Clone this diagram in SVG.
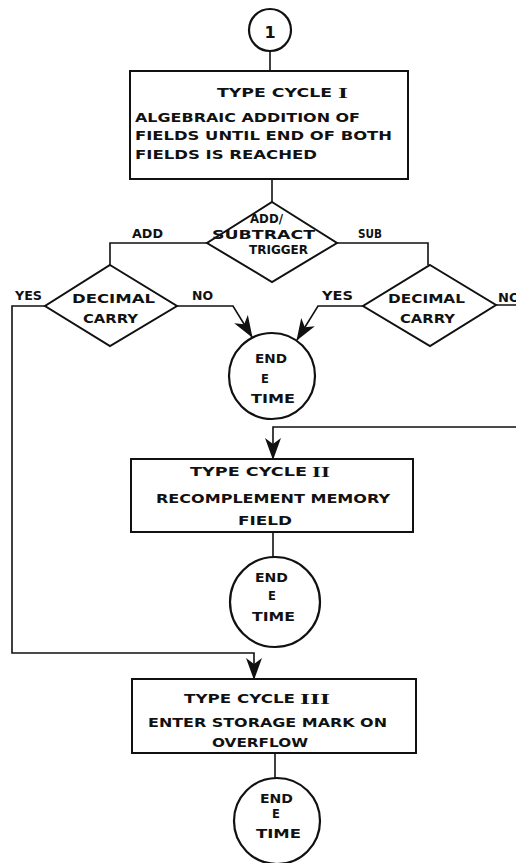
<svg xmlns="http://www.w3.org/2000/svg" width="516" height="863" viewBox="0 0 516 863">
<style>
.shape{fill:#fff;stroke:#111;stroke-width:2}
.term{fill:#fff;stroke:#111;stroke-width:2.2}
.conn{fill:none;stroke:#111;stroke-width:1.6}
.t{font-family:"DejaVu Sans","Liberation Sans",sans-serif;font-weight:bold;font-size:11.5px;fill:#111}
.rn{font-family:"Liberation Serif","DejaVu Serif",serif;font-weight:bold;font-size:14px;fill:#111}
.num{font-family:"DejaVu Sans","Liberation Sans",sans-serif;font-weight:bold;font-size:16px;fill:#111}
</style>
<defs>
<marker id="ah" viewBox="0 -9 22 18" refX="21" refY="0" markerWidth="22" markerHeight="18" markerUnits="userSpaceOnUse" orient="auto">
<path d="M0,-8 L22,0 L0,8 L6,0 Z" fill="#111"/>
</marker>
</defs>
<rect width="516" height="863" fill="#fff"/>
<g id="connectors">
<path class="conn" d="M270,51 V71"/>
<path class="conn" d="M272,179 V202"/>
<path class="conn" d="M207,243 H110 V265"/>
<path class="conn" d="M337,243 H428 V265"/>
<path class="conn" d="M177,306 H233 L252,337" marker-end="url(#ah)"/>
<path class="conn" d="M363,306 H318 L297,340" marker-end="url(#ah)"/>
<path class="conn" d="M45,306 H12 V653 H254 V679" marker-end="url(#ah)"/>
<path class="conn" d="M496,305 H530 V427 H273 V459" marker-end="url(#ah)"/>
<path class="conn" d="M273,532 V557"/>
<path class="conn" d="M275,753 V778"/>
</g>
<g id="connector-labels">
<text class="t" x="132" y="238" textLength="31" lengthAdjust="spacingAndGlyphs">ADD</text>
<text class="t" x="358" y="238" textLength="24" lengthAdjust="spacingAndGlyphs">SUB</text>
<text class="t" x="15" y="300" textLength="27" lengthAdjust="spacingAndGlyphs">YES</text>
<text class="t" x="192" y="300" textLength="21" lengthAdjust="spacingAndGlyphs">NO</text>
<text class="t" x="322" y="300" textLength="31" lengthAdjust="spacingAndGlyphs">YES</text>
<text class="t" x="498" y="302" textLength="22" lengthAdjust="spacingAndGlyphs">NO</text>
</g>
<g id="connector1">
<circle class="term" cx="270" cy="30" r="21"/>
<text class="num" x="270" y="38" text-anchor="middle">1</text>
</g>
<g id="cycle1">
<rect class="shape" x="130" y="71" width="278" height="108"/>
<text class="t" x="217" y="97" textLength="115" lengthAdjust="spacingAndGlyphs">TYPE CYCLE</text>
<text class="rn" x="338" y="98" textLength="10" lengthAdjust="spacingAndGlyphs">I</text>
<text class="t" x="135" y="122" textLength="225" lengthAdjust="spacingAndGlyphs">ALGEBRAIC ADDITION OF</text>
<text class="t" x="135" y="140" textLength="257" lengthAdjust="spacingAndGlyphs">FIELDS UNTIL END OF BOTH</text>
<text class="t" x="135" y="159" textLength="182" lengthAdjust="spacingAndGlyphs">FIELDS IS REACHED</text>
</g>
<g id="trigger">
<polygon class="shape" points="272,202 337,243 272,282 207,243"/>
<text class="t" x="250" y="223" textLength="33" lengthAdjust="spacingAndGlyphs">ADD/</text>
<text class="t" x="212" y="239" textLength="103" lengthAdjust="spacingAndGlyphs">SUBTRACT</text>
<text class="t" x="249" y="254" textLength="59" lengthAdjust="spacingAndGlyphs">TRIGGER</text>
</g>
<g id="carry-add">
<polygon class="shape" points="110,265 177,306 110,346 45,306"/>
<text class="t" x="72" y="303" textLength="83" lengthAdjust="spacingAndGlyphs">DECIMAL</text>
<text class="t" x="83" y="323" textLength="55" lengthAdjust="spacingAndGlyphs">CARRY</text>
</g>
<g id="carry-sub">
<polygon class="shape" points="430,265 496,305 430,346 363,306"/>
<text class="t" x="388" y="303" textLength="77" lengthAdjust="spacingAndGlyphs">DECIMAL</text>
<text class="t" x="400" y="323" textLength="55" lengthAdjust="spacingAndGlyphs">CARRY</text>
</g>
<g id="end1">
<circle class="term" cx="272" cy="376" r="43"/>
<text class="t" x="255" y="363" textLength="32" lengthAdjust="spacingAndGlyphs">END</text>
<text class="t" x="265" y="383" text-anchor="middle">E</text>
<text class="t" x="251" y="403" textLength="44" lengthAdjust="spacingAndGlyphs">TIME</text>
</g>
<g id="cycle2">
<rect class="shape" x="131" y="459" width="282" height="73"/>
<text class="t" x="190" y="476" textLength="117" lengthAdjust="spacingAndGlyphs">TYPE CYCLE</text>
<text class="rn" x="312" y="477" textLength="18" lengthAdjust="spacingAndGlyphs">II</text>
<text class="t" x="156" y="503" textLength="234" lengthAdjust="spacingAndGlyphs">RECOMPLEMENT MEMORY</text>
<text class="t" x="238" y="525" textLength="54" lengthAdjust="spacingAndGlyphs">FIELD</text>
</g>
<g id="end2">
<circle class="term" cx="275" cy="602" r="45"/>
<text class="t" x="255" y="582" textLength="33" lengthAdjust="spacingAndGlyphs">END</text>
<text class="t" x="272" y="600" text-anchor="middle">E</text>
<text class="t" x="252" y="621" textLength="43" lengthAdjust="spacingAndGlyphs">TIME</text>
</g>
<g id="cycle3">
<rect class="shape" x="132" y="679" width="284" height="74"/>
<text class="t" x="184" y="703" textLength="111" lengthAdjust="spacingAndGlyphs">TYPE CYCLE</text>
<text class="rn" x="300" y="704" textLength="30" lengthAdjust="spacingAndGlyphs">III</text>
<text class="t" x="148" y="727" textLength="239" lengthAdjust="spacingAndGlyphs">ENTER STORAGE MARK ON</text>
<text class="t" x="212" y="747" textLength="96" lengthAdjust="spacingAndGlyphs">OVERFLOW</text>
</g>
<g id="end3">
<circle class="term" cx="277" cy="821" r="43"/>
<text class="t" x="260" y="803" textLength="33" lengthAdjust="spacingAndGlyphs">END</text>
<text class="t" x="276" y="818" text-anchor="middle">E</text>
<text class="t" x="256" y="838" textLength="45" lengthAdjust="spacingAndGlyphs">TIME</text>
</g>
</svg>
